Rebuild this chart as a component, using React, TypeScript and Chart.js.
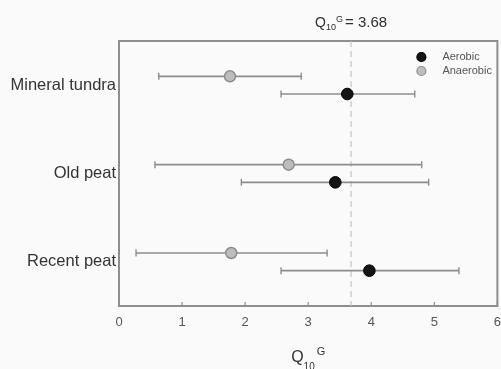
import React, { useEffect, useRef } from "react";
import { Chart, registerables } from "chart.js";

Chart.register(...registerables);

// Temperature sensitivity (Q10 of gross rates) per soil type, mean with range
const categories = ["Mineral tundra", "Old peat", "Recent peat"];
const aerobicMean = [3.62, 3.43, 3.97];
const aerobicLow = [2.57, 1.94, 2.57];
const aerobicHigh = [4.69, 4.91, 5.39];
const anaerobicMean = [1.76, 2.69, 1.78];
const anaerobicLow = [0.63, 0.57, 0.27];
const anaerobicHigh = [2.89, 4.8, 3.3];
const q10Global = 3.68;
const xTickValues = [0, 1, 2, 3, 4, 5, 6];

const FONT = "'Liberation Sans', Arial, sans-serif";
const ROW_SHIFT = 0.1;
const AEROBIC_FILL = "#141414";
const ANAEROBIC_FILL = "#bdbdbd";
const BAR_COLOR = "#8c8c8c";
const FRAME_COLOR = "#8e8e8e";

// the canvas is a little wider than the visible box so that the last
// tick label is cut by the edge, as on the printed figure
const VIEW_W = 501;
const VIEW_H = 369;
const CANVAS_W = 510;

const rowY = (i: number, shift: number) => i + 0.5 + shift;

type Part = { text: string; size: number; dy: number; gap?: number };

function richWidth(ctx: CanvasRenderingContext2D, parts: Part[]) {
  let w = 0;
  for (const p of parts) {
    ctx.font = `${p.size}px ${FONT}`;
    w += ctx.measureText(p.text).width + (p.gap || 0);
  }
  return w;
}

function drawRich(ctx: CanvasRenderingContext2D, parts: Part[], cx: number, baseline: number, color: string) {
  const total = richWidth(ctx, parts);
  let x = cx - total / 2;
  ctx.fillStyle = color;
  ctx.textAlign = "left";
  ctx.textBaseline = "alphabetic";
  for (const p of parts) {
    ctx.font = `${p.size}px ${FONT}`;
    ctx.fillText(p.text, x, baseline + p.dy);
    x += ctx.measureText(p.text).width + (p.gap || 0);
  }
}

const backgroundPlugin = {
  id: "pageBackground",
  beforeDraw(chart: any) {
    const { ctx, width, height } = chart;
    ctx.save();
    ctx.fillStyle = "#fafafa";
    ctx.fillRect(0, 0, width, height);
    ctx.restore();
  },
};

const framePlugin = {
  id: "plotFrame",
  beforeDatasetsDraw(chart: any) {
    const { ctx, chartArea: a, scales } = chart;
    ctx.save();
    ctx.strokeStyle = FRAME_COLOR;
    ctx.lineWidth = 2;
    ctx.strokeRect(a.left, a.top, a.right - a.left, a.bottom - a.top);
    // short inward tick marks on the value axis
    ctx.lineWidth = 1.2;
    for (const v of xTickValues) {
      const px = scales.x.getPixelForValue(v);
      ctx.beginPath();
      ctx.moveTo(px, a.bottom);
      ctx.lineTo(px, a.bottom - 4);
      ctx.stroke();
    }
    ctx.restore();
  },
};

const labelsPlugin = {
  id: "q10Labels",
  afterDraw(chart: any) {
    const { ctx, chartArea: a, scales } = chart;
    ctx.save();
    // heading above the global reference line
    drawRich(
      ctx,
      [
        { text: "Q", size: 14, dy: 0 },
        { text: "10", size: 9, dy: 3 },
        { text: "G", size: 9, dy: -5, gap: 2 },
        { text: "= 3.68", size: 15, dy: 0 },
      ],
      scales.x.getPixelForValue(q10Global),
      a.top - 14,
      "#2e2e2e"
    );
    // value axis title
    drawRich(
      ctx,
      [
        { text: "Q", size: 16, dy: 0 },
        { text: "10", size: 10, dy: 8, gap: 2 },
        { text: "G", size: 11, dy: -7 },
      ],
      (a.left + a.right) / 2,
      a.bottom + 56,
      "#333333"
    );
    // legend in the upper right corner of the plot
    const items = [
      { label: "Aerobic", fill: AEROBIC_FILL, stroke: "#000000" },
      { label: "Anaerobic", fill: ANAEROBIC_FILL, stroke: BAR_COLOR },
    ];
    ctx.font = `11px ${FONT}`;
    ctx.textBaseline = "middle";
    items.forEach((it, k) => {
      const y = a.top + 16 + k * 14;
      const x = a.right - 76;
      ctx.beginPath();
      ctx.arc(x, y, 4.5, 0, Math.PI * 2);
      ctx.fillStyle = it.fill;
      ctx.fill();
      ctx.lineWidth = 1.2;
      ctx.strokeStyle = it.stroke;
      ctx.stroke();
      ctx.fillStyle = "#555555";
      ctx.textAlign = "left";
      ctx.fillText(it.label, x + 21, y);
    });
    ctx.restore();
  },
};

function errorBar(low: number, high: number, y: number) {
  return {
    type: "line" as const,
    data: [
      { x: low, y },
      { x: high, y },
    ],
    borderColor: BAR_COLOR,
    borderWidth: 1.6,
    pointStyle: "line" as const,
    rotation: 90,
    pointRadius: 3.5,
    pointBorderColor: BAR_COLOR,
    pointBorderWidth: 1.4,
    pointHoverRadius: 0,
    order: 2,
  };
}

export default function App() {
  const canvasRef = useRef<HTMLCanvasElement | null>(null);

  useEffect(() => {
    const canvas = canvasRef.current;
    if (!canvas) return;

    const bars: any[] = [];
    categories.forEach((_, i) => {
      bars.push(errorBar(anaerobicLow[i], anaerobicHigh[i], rowY(i, -ROW_SHIFT)));
      bars.push(errorBar(aerobicLow[i], aerobicHigh[i], rowY(i, ROW_SHIFT)));
    });

    const chart = new Chart(canvas, {
      type: "scatter",
      data: {
        datasets: [
          {
            label: "Aerobic",
            data: aerobicMean.map((v, i) => ({ x: v, y: rowY(i, ROW_SHIFT) })),
            backgroundColor: AEROBIC_FILL,
            borderColor: "#000000",
            borderWidth: 1,
            pointRadius: 5.8,
            order: 0,
          },
          {
            label: "Anaerobic",
            data: anaerobicMean.map((v, i) => ({ x: v, y: rowY(i, -ROW_SHIFT) })),
            backgroundColor: ANAEROBIC_FILL,
            borderColor: BAR_COLOR,
            borderWidth: 1.5,
            pointRadius: 5.5,
            order: 0,
          },
          ...bars,
          {
            type: "line",
            label: "Global Q10",
            data: [
              { x: q10Global, y: 0 },
              { x: q10Global, y: 3 },
            ],
            borderColor: "#c4c4c4",
            borderWidth: 1.2,
            borderDash: [6, 4],
            pointRadius: 0,
            order: 3,
          },
        ],
      },
      options: {
        responsive: false,
        animation: false,
        layout: { padding: { top: 41, right: 1.5, left: 0, bottom: 0 } },
        plugins: {
          legend: { display: false },
          tooltip: { enabled: false },
        },
        scales: {
          x: {
            type: "linear",
            min: 0,
            max: 6,
            border: { display: false },
            grid: { display: false, drawTicks: false },
            afterBuildTicks: (scale: any) => {
              scale.ticks = xTickValues.map((v) => ({ value: v }));
            },
            afterFit: (scale: any) => {
              scale.height = 63;
            },
            ticks: {
              padding: 9,
              color: "#555555",
              font: { family: FONT, size: 13 },
              callback: (v: any) => String(v),
            },
          },
          y: {
            type: "linear",
            min: 0,
            max: 3,
            reverse: true,
            border: { display: false },
            grid: { display: false, drawTicks: false },
            afterBuildTicks: (scale: any) => {
              scale.ticks = categories.map((_, i) => ({ value: i + 0.5 }));
            },
            afterFit: (scale: any) => {
              scale.width = 119;
            },
            ticks: {
              padding: 3,
              color: "#333333",
              font: { family: FONT, size: 16.5 },
              callback: (v: any) => categories[Math.round(Number(v) - 0.5)] ?? "",
            },
          },
        },
      },
      plugins: [backgroundPlugin, framePlugin, labelsPlugin],
    } as any);

    return () => chart.destroy();
  }, []);

  return (
    <div
      style={{
        position: "fixed",
        left: 0,
        top: 0,
        width: VIEW_W,
        height: VIEW_H,
        overflow: "hidden",
        background: "#fafafa",
      }}
    >
      <canvas ref={canvasRef} width={CANVAS_W} height={VIEW_H} style={{ display: "block" }} />
    </div>
  );
}
